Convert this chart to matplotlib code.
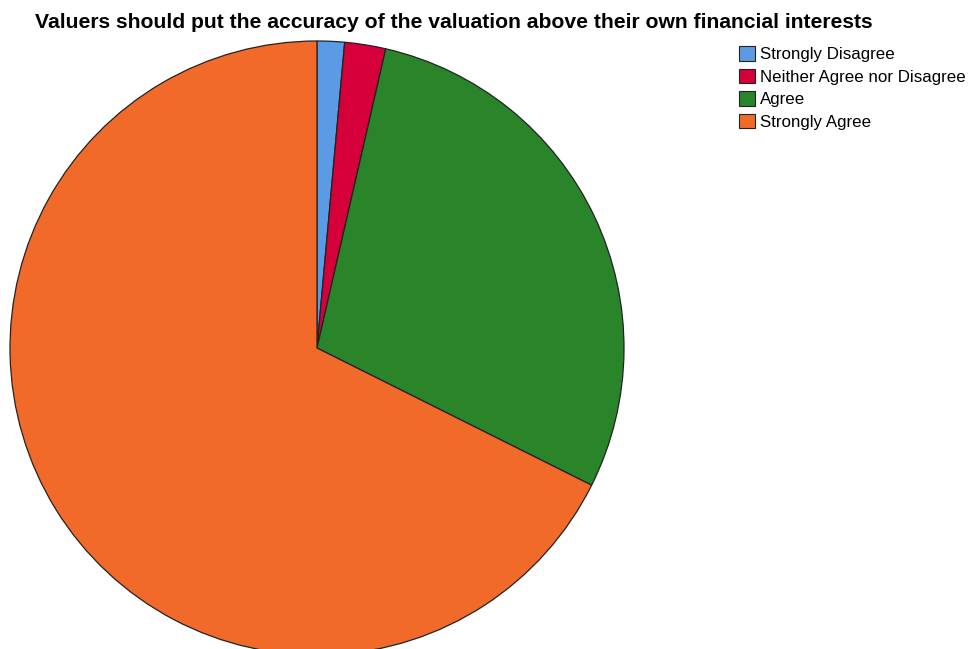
import matplotlib.pyplot as plt
from matplotlib.patches import Patch

# survey responses
labels = ['Strongly Disagree', 'Neither Agree nor Disagree', 'Agree', 'Strongly Agree']
counts = [2, 3, 40, 94]
colors = ['#5b9be6', '#d5003a', '#2a852a', '#f26a2a']

title = 'Valuers should put the accuracy of the valuation above their own financial interests'

plt.rcParams['font.family'] = ['Liberation Sans', 'DejaVu Sans']

fig = plt.figure(figsize=(9.71, 6.49), dpi=100)
ax = fig.add_axes([0, 0, 1, 1])
ax.set_xlim(0, 971)
ax.set_ylim(0, 649)
ax.set_aspect('equal')
ax.axis('off')

ax.pie(counts, colors=colors, startangle=90, counterclock=False,
       center=(317, 301), radius=307,
       wedgeprops=dict(edgecolor='#222222', linewidth=0.9))
ax.set_xlim(0, 971)
ax.set_ylim(0, 649)

fig.text(454, 649 - 23, title, ha='center', va='center',
         fontsize=15.2, fontweight='bold', transform=None)

handles = [Patch(facecolor=c, edgecolor='#222222', linewidth=0.8) for c in colors]
fig.legend(handles, labels, loc='upper left', bbox_to_anchor=(739 / 971, 1 - 46 / 649),
           frameon=False, fontsize=12.2, handlelength=0.95, handleheight=0.95,
           handletextpad=0.3, labelspacing=0.38, borderaxespad=0, borderpad=0)

fig.savefig('out.png', dpi=100)
